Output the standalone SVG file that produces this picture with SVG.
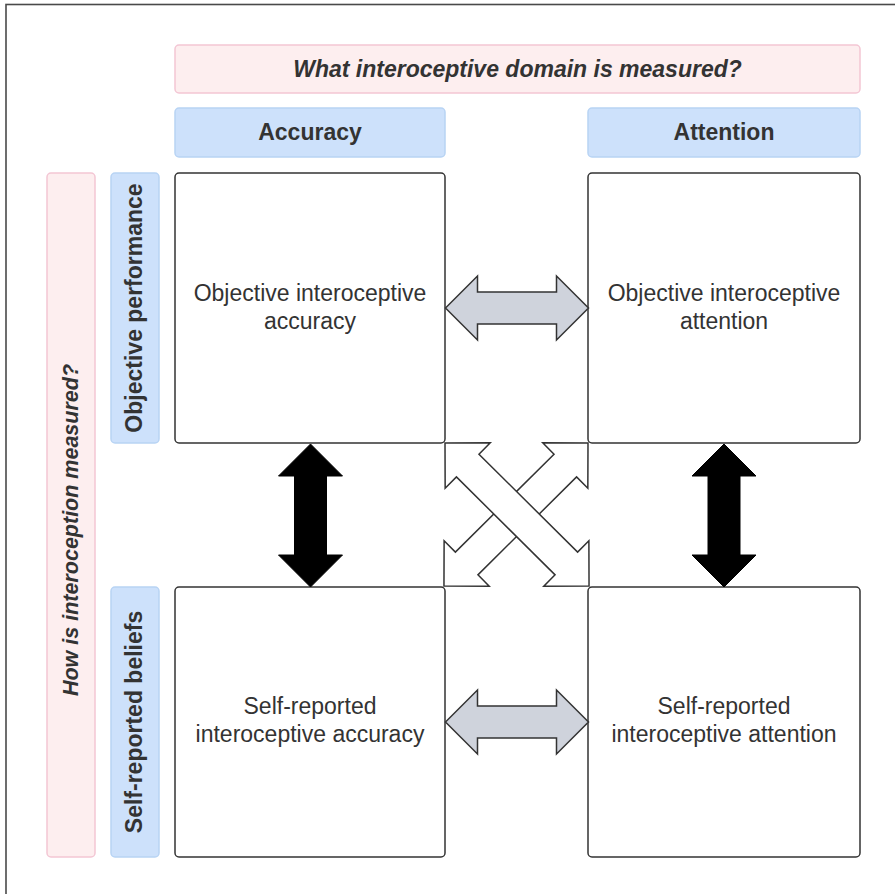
<svg xmlns="http://www.w3.org/2000/svg" width="895" height="894" viewBox="0 0 895 894">
  <defs>
    <style>
      .frame { fill: none; stroke: #4a4a4a; stroke-width: 1.6; }
      .pink { fill: #fdeeef; stroke: #f3c6d4; stroke-width: 1.5; }
      .blue { fill: #cde1fb; stroke: #b8d4f4; stroke-width: 1.5; }
      .box { fill: #ffffff; stroke: #333333; stroke-width: 1.5; }
      .hdr { font-family: "Liberation Sans", Arial, sans-serif; font-weight: bold; font-size: 23px; fill: #333333; text-anchor: middle; }
      .q { font-style: italic; }
      .side { font-size: 21.5px; }
      .body { font-family: "Liberation Sans", Arial, sans-serif; font-size: 23px; fill: #333333; text-anchor: middle; }
      .grey { fill: #cfd3dc; stroke: #333333; stroke-width: 1.5; stroke-linejoin: miter; }
      .black { fill: #000000; stroke: #000000; stroke-width: 1; }
      .white { fill: #ffffff; stroke: #333333; stroke-width: 1.5; stroke-linejoin: miter; }
    </style>
    <path id="darrow" d="M0,0 L32,-32 L32,-16 L111,-16 L111,-32 L143,0 L111,32 L111,16 L32,16 L32,32 Z"/>
    <path id="darrowLong" d="M0,0 L32,-32 L32,-16 L171,-16 L171,-32 L203,0 L171,32 L171,16 L32,16 L32,32 Z"/>
  </defs>

  <rect class="frame" x="6" y="4.5" width="900" height="900"/>

  <g id="header-domain">
    <rect class="pink" x="175" y="45" width="685" height="48" rx="4"/>
    <text class="hdr q" x="517.5" y="77">What interoceptive domain is measured?</text>
  </g>
  <g id="header-accuracy">
    <rect class="blue" x="175" y="108" width="270" height="49" rx="4"/>
    <text class="hdr" x="310" y="140">Accuracy</text>
  </g>
  <g id="header-attention">
    <rect class="blue" x="588" y="108" width="272" height="49" rx="4"/>
    <text class="hdr" x="724" y="140">Attention</text>
  </g>
  <g id="header-measured">
    <rect class="pink" x="47" y="173" width="48" height="684" rx="4"/>
    <text class="hdr q side" transform="translate(78,530) rotate(-90)">How is interoception measured?</text>
  </g>
  <g id="header-objective">
    <rect class="blue" x="111" y="173" width="48" height="270" rx="4"/>
    <text class="hdr" transform="translate(142,308) rotate(-90)">Objective performance</text>
  </g>
  <g id="header-self">
    <rect class="blue" x="111" y="587" width="48" height="270" rx="4"/>
    <text class="hdr" transform="translate(142,722) rotate(-90)">Self-reported beliefs</text>
  </g>

  <g id="obj-accuracy">
    <rect class="box" x="175" y="173" width="270" height="270" rx="4"/>
    <text class="body" x="310" y="301">Objective interoceptive</text>
    <text class="body" x="310" y="329">accuracy</text>
  </g>
  <g id="obj-attention">
    <rect class="box" x="588" y="173" width="272" height="270" rx="4"/>
    <text class="body" x="724" y="301">Objective interoceptive</text>
    <text class="body" x="724" y="329">attention</text>
  </g>
  <g id="self-accuracy">
    <rect class="box" x="175" y="587" width="270" height="270" rx="4"/>
    <text class="body" x="310" y="714">Self-reported</text>
    <text class="body" x="310" y="742">interoceptive accuracy</text>
  </g>
  <g id="self-attention">
    <rect class="box" x="588" y="587" width="272" height="270" rx="4"/>
    <text class="body" x="724" y="714">Self-reported</text>
    <text class="body" x="724" y="742">interoceptive attention</text>
  </g>

  <g id="connectors">
    <use href="#darrow" class="grey" transform="translate(445.5,308)"/>
    <use href="#darrow" class="grey" transform="translate(445.5,722)"/>
    <use href="#darrow" class="black" transform="translate(310.5,444) rotate(90)"/>
    <use href="#darrow" class="black" transform="translate(724,444) rotate(90)"/>
    <use href="#darrowLong" class="white" transform="translate(588,443) rotate(135.2)"/>
    <use href="#darrowLong" class="white" transform="translate(445,443) rotate(44.8)"/>
  </g>
</svg>
